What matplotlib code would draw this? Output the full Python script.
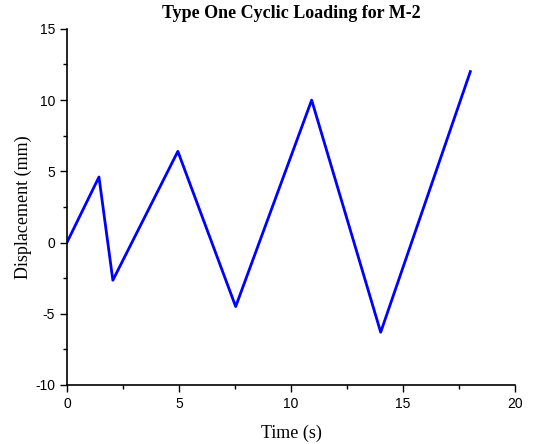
import matplotlib
matplotlib.use("Agg")
import matplotlib.pyplot as plt
from matplotlib.ticker import MultipleLocator

plt.rcParams["axes.unicode_minus"] = False

# turning points of the loading history
time_s = [0.0, 1.43, 2.05, 4.95, 7.53, 10.92, 14.0, 18.0]
displacement_mm = [0.0, 4.6, -2.65, 6.4, -4.5, 10.0, -6.3, 12.0]

x_ticks = [0, 5, 10, 15, 20]
y_ticks = [-10, -5, 0, 5, 10, 15]


def main():
    fig = plt.figure(figsize=(5.44, 4.44), dpi=100)
    ax = fig.add_axes([0.123, 0.133, 0.824, 0.802])

    ax.plot(time_s, displacement_mm, color="#0000ff", linewidth=2)

    ax.set_xlim(0, 20)
    ax.set_ylim(-10, 15)
    ax.set_xticks(x_ticks)
    ax.set_yticks(y_ticks)
    ax.xaxis.set_minor_locator(MultipleLocator(2.5))
    ax.yaxis.set_minor_locator(MultipleLocator(2.5))
    ax.tick_params(which="major", direction="out", length=5, width=1,
                   labelsize=10)
    ax.tick_params(which="minor", direction="out", length=3, width=1)
    for lab in ax.get_xticklabels() + ax.get_yticklabels():
        lab.set_fontfamily("Liberation Sans")

    ax.spines["top"].set_visible(False)
    ax.spines["right"].set_visible(False)
    ax.spines["left"].set_linewidth(1.2)
    ax.spines["bottom"].set_linewidth(1.2)

    ax.set_xlabel("Time (s)", fontfamily="Liberation Serif", fontsize=13,
                  labelpad=10)
    ax.set_ylabel("Displacement (mm)", fontfamily="Liberation Serif",
                  fontsize=13, labelpad=2)
    ax.set_title("Type One Cyclic Loading for M-2", fontfamily="Liberation Serif",
                 fontweight="bold", fontsize=13, pad=8)

    fig.savefig("out.png", dpi=100)


if __name__ == '__main__':
    main()
